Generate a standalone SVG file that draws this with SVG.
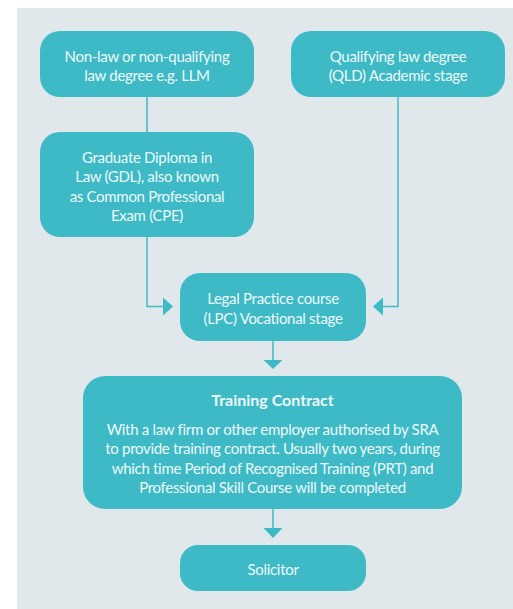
<svg xmlns="http://www.w3.org/2000/svg" width="513" height="609" viewBox="0 0 513 609">
<style>
.box{fill:#3dbac6;}
.t{font-family:Lato,"Open Sans","Liberation Sans",sans-serif;font-size:15px;fill:#eef9fa;text-anchor:middle;letter-spacing:-0.3px;}
.b{font-weight:bold;font-size:16px;letter-spacing:0;}
.c{fill:none;stroke:#3dbac6;stroke-width:1.5;}
.ah{fill:#3dbac6;}
</style>
<rect x="17" y="8" width="496" height="601" fill="#e0e8ec"/>
<g id="connectors">
<path class="c" d="M147 97V132"/>
<path class="c" d="M147 237V306.5H165"/>
<polygon class="ah" points="163,297.5 173,306.5 163,315.5"/>
<path class="c" d="M398 97V306.5H381"/>
<polygon class="ah" points="383,297.5 373,306.5 383,315.5"/>
<path class="c" d="M273 341V362"/>
<polygon class="ah" points="263.5,360 282.5,360 273,369"/>
<path class="c" d="M273 509V530"/>
<polygon class="ah" points="263.5,528 282.5,528 273,538"/>
</g>
<g id="nonlaw">
<rect class="box" x="40" y="31" width="214" height="66" rx="20"/>
<text class="t" x="147" y="62">Non-law or non-qualifying</text>
<text class="t" x="147" y="80.5">law degree e.g. LLM</text>
</g>
<g id="qld">
<rect class="box" x="291" y="31" width="214" height="66" rx="20"/>
<text class="t" x="398" y="62">Qualifying law degree</text>
<text class="t" x="398" y="80.5">(QLD) Academic stage</text>
</g>
<g id="gdl">
<rect class="box" x="40" y="132" width="214" height="105" rx="20"/>
<text class="t" x="147" y="162.5">Graduate Diploma in</text>
<text class="t" x="147" y="182">Law (GDL), also known</text>
<text class="t" x="147" y="201.5">as Common Professional</text>
<text class="t" x="147" y="221">Exam (CPE)</text>
</g>
<g id="lpc">
<rect class="box" x="180" y="273" width="186" height="68" rx="20"/>
<text class="t" x="273" y="304">Legal Practice course</text>
<text class="t" x="273" y="323.5">(LPC) Vocational stage</text>
</g>
<g id="training">
<rect class="box" x="83" y="376" width="379" height="133" rx="22"/>
<text class="t b" x="272.5" y="405.5">Training Contract</text>
<text class="t" x="272.5" y="434.5">With a law firm or other employer authorised by SRA</text>
<text class="t" x="272.5" y="454">to provide training contract. Usually two years, during</text>
<text class="t" x="272.5" y="473.5">which time Period of Recognised Training (PRT) and</text>
<text class="t" x="272.5" y="493">Professional Skill Course will be completed</text>
</g>
<g id="solicitor">
<rect class="box" x="180" y="545" width="186" height="46" rx="18"/>
<text class="t" x="273" y="575">Solicitor</text>
</g>
</svg>
